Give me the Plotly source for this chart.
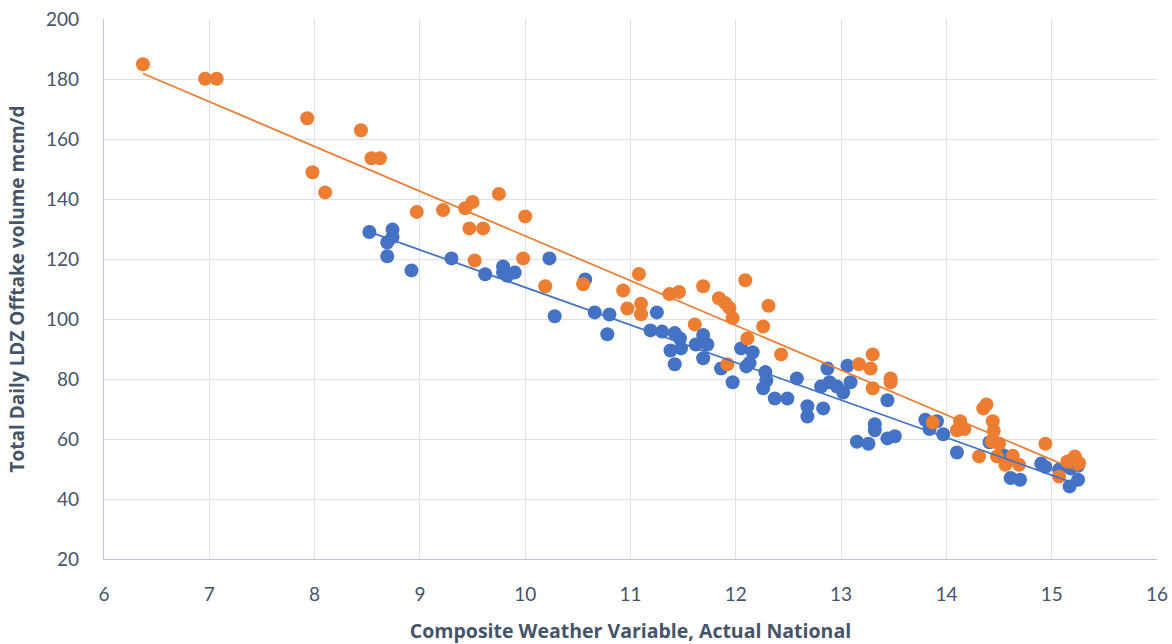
import numpy as np
import plotly.graph_objects as go

# Orange series (x = composite weather variable, y = offtake mcm/d)
orange_x = [6.37, 6.96, 7.07, 7.93, 7.98, 8.10, 8.44, 8.54, 8.62, 8.97, 9.22, 9.43, 9.50, 9.47, 9.60,
            9.52, 9.75, 10.00, 9.98, 10.19, 10.55, 10.93, 10.97, 11.08, 11.10, 11.10, 11.37, 11.46,
            11.61, 11.69, 11.84, 11.90, 11.94, 11.97, 11.92, 12.09, 12.11, 12.26, 12.31, 12.43,
            13.17, 13.28, 13.30, 13.30, 13.47, 13.47, 13.87, 14.10, 14.13, 14.17, 14.31, 14.35,
            14.38, 14.44, 14.45, 14.43, 14.50, 14.48, 14.56, 14.63, 14.69, 14.94, 15.07, 15.15,
            15.22, 15.26]
orange_y = [184.9, 180.1, 180.1, 166.9, 148.9, 142.2, 162.9, 153.6, 153.6, 135.7, 136.3, 136.9, 139.0,
            130.2, 130.2, 119.5, 141.7, 134.2, 120.2, 110.9, 111.6, 109.5, 103.5, 115.0, 105.1, 101.6,
            108.3, 109.0, 98.2, 110.9, 106.9, 105.3, 103.7, 100.3, 84.9, 112.9, 93.5, 97.5, 104.4,
            88.2, 84.9, 83.5, 88.2, 76.9, 80.2, 78.9, 65.5, 62.9, 65.9, 63.3, 54.2, 70.2, 71.5, 65.9,
            62.7, 59.2, 58.4, 54.2, 51.4, 54.4, 51.4, 58.4, 47.5, 52.5, 54.2, 52.0]

# Blue series
blue_x = [8.52, 8.74, 8.74, 8.69, 8.69, 8.92, 9.30, 9.62, 9.79, 9.79, 9.83, 9.90, 10.23, 10.28, 10.57,
          10.66, 10.80, 10.78, 11.19, 11.25, 11.30, 11.42, 11.47, 11.38, 11.48, 11.42, 11.62, 11.69,
          11.73, 11.69, 11.86, 11.97, 12.05, 12.16, 12.13, 12.10, 12.28, 12.29, 12.26, 12.37, 12.49,
          12.58, 12.68, 12.68, 12.83, 12.87, 12.81, 12.89, 12.96, 13.02, 13.06, 13.09, 13.15, 13.26,
          13.32, 13.32, 13.44, 13.44, 13.51, 13.80, 13.84, 13.91, 13.97, 14.10, 14.41, 14.54, 14.61,
          14.70, 14.90, 14.94, 15.07, 15.18, 15.25, 15.25, 15.17]
blue_y = [129.0, 129.8, 127.3, 125.5, 120.9, 116.2, 120.2, 114.9, 117.5, 115.5, 114.4, 115.5, 120.2,
          100.9, 113.2, 102.2, 101.5, 94.9, 96.2, 102.2, 95.8, 95.3, 93.5, 89.5, 90.2, 84.9, 91.5, 94.7,
          91.5, 86.9, 83.5, 78.9, 90.2, 88.9, 85.3, 84.2, 82.3, 79.5, 76.9, 73.5, 73.5, 80.2, 70.9, 67.5,
          70.2, 83.5, 77.5, 78.9, 77.5, 75.5, 84.4, 78.9, 59.1, 58.4, 64.9, 62.9, 72.9, 60.2, 60.9, 66.4,
          63.3, 65.9, 61.6, 55.5, 58.9, 54.6, 47.0, 46.4, 51.8, 50.7, 49.8, 50.2, 51.1, 46.4, 44.2]

x_ticks = [6, 7, 8, 9, 10, 11, 12, 13, 14, 15, 16]
y_ticks = [20, 40, 60, 80, 100, 120, 140, 160, 180, 200]

BLUE = "#4472C4"
ORANGE = "#ED7D31"
TEXT = "#44546A"
FONT = "Lato, 'Open Sans', sans-serif"
TITLE_FONT = "'Open Sans', Lato, sans-serif"


def trend(xs, ys):
    a, b = np.polyfit(xs, ys, 1)
    xr = np.array([min(xs), max(xs)])
    return xr, a * xr + b


fig = go.Figure()
fig.add_trace(go.Scatter(x=blue_x, y=blue_y, mode="markers", name="Blue",
                         marker=dict(color=BLUE, size=14, line=dict(width=0))))
fig.add_trace(go.Scatter(x=orange_x, y=orange_y, mode="markers", name="Orange",
                         marker=dict(color=ORANGE, size=14, line=dict(width=0))))
bx, by = trend(blue_x, blue_y)
ox, oy = trend(orange_x, orange_y)
fig.add_trace(go.Scatter(x=bx, y=by, mode="lines", line=dict(color=BLUE, width=1.75), hoverinfo="skip"))
fig.add_trace(go.Scatter(x=ox, y=oy, mode="lines", line=dict(color=ORANGE, width=1.75), hoverinfo="skip"))

fig.update_layout(
    width=1172, height=644,
    margin=dict(l=104, r=15, t=19, b=85),
    paper_bgcolor="white", plot_bgcolor="white",
    showlegend=False,
    font=dict(family=FONT, size=19, color=TEXT),
)
fig.update_xaxes(
    range=[6, 16], tickvals=x_ticks, showgrid=True, gridcolor="#DDE1E8", gridwidth=1.3,
    showline=True, linecolor="#BCC5D4", linewidth=1.3, zeroline=False, automargin=False,
    ticks="outside", ticklen=18, tickcolor="rgba(0,0,0,0)",
    title=dict(text="<b>Composite Weather Variable, Actual National</b>", standoff=20,
               font=dict(family=TITLE_FONT, size=19.5, color=TEXT)),
)
fig.update_yaxes(
    range=[20, 200], tickvals=y_ticks, showgrid=True, gridcolor="#DDE1E8", gridwidth=1.3,
    showline=True, linecolor="#BCC5D4", linewidth=1.3, zeroline=False, automargin=False,
    ticks="outside", ticklen=20, tickcolor="rgba(0,0,0,0)",
    title=dict(text="<b>Total Daily LDZ Offtake volume mcm/d</b>", standoff=16,
               font=dict(family=TITLE_FONT, size=19, color=TEXT)),
)

# remove the browser's default 8px body margin so the figure fills the window exactly
fig.write_html("out.html", config={"displayModeBar": False},
               post_script="document.body.style.margin='0';document.body.style.overflow='hidden';")
